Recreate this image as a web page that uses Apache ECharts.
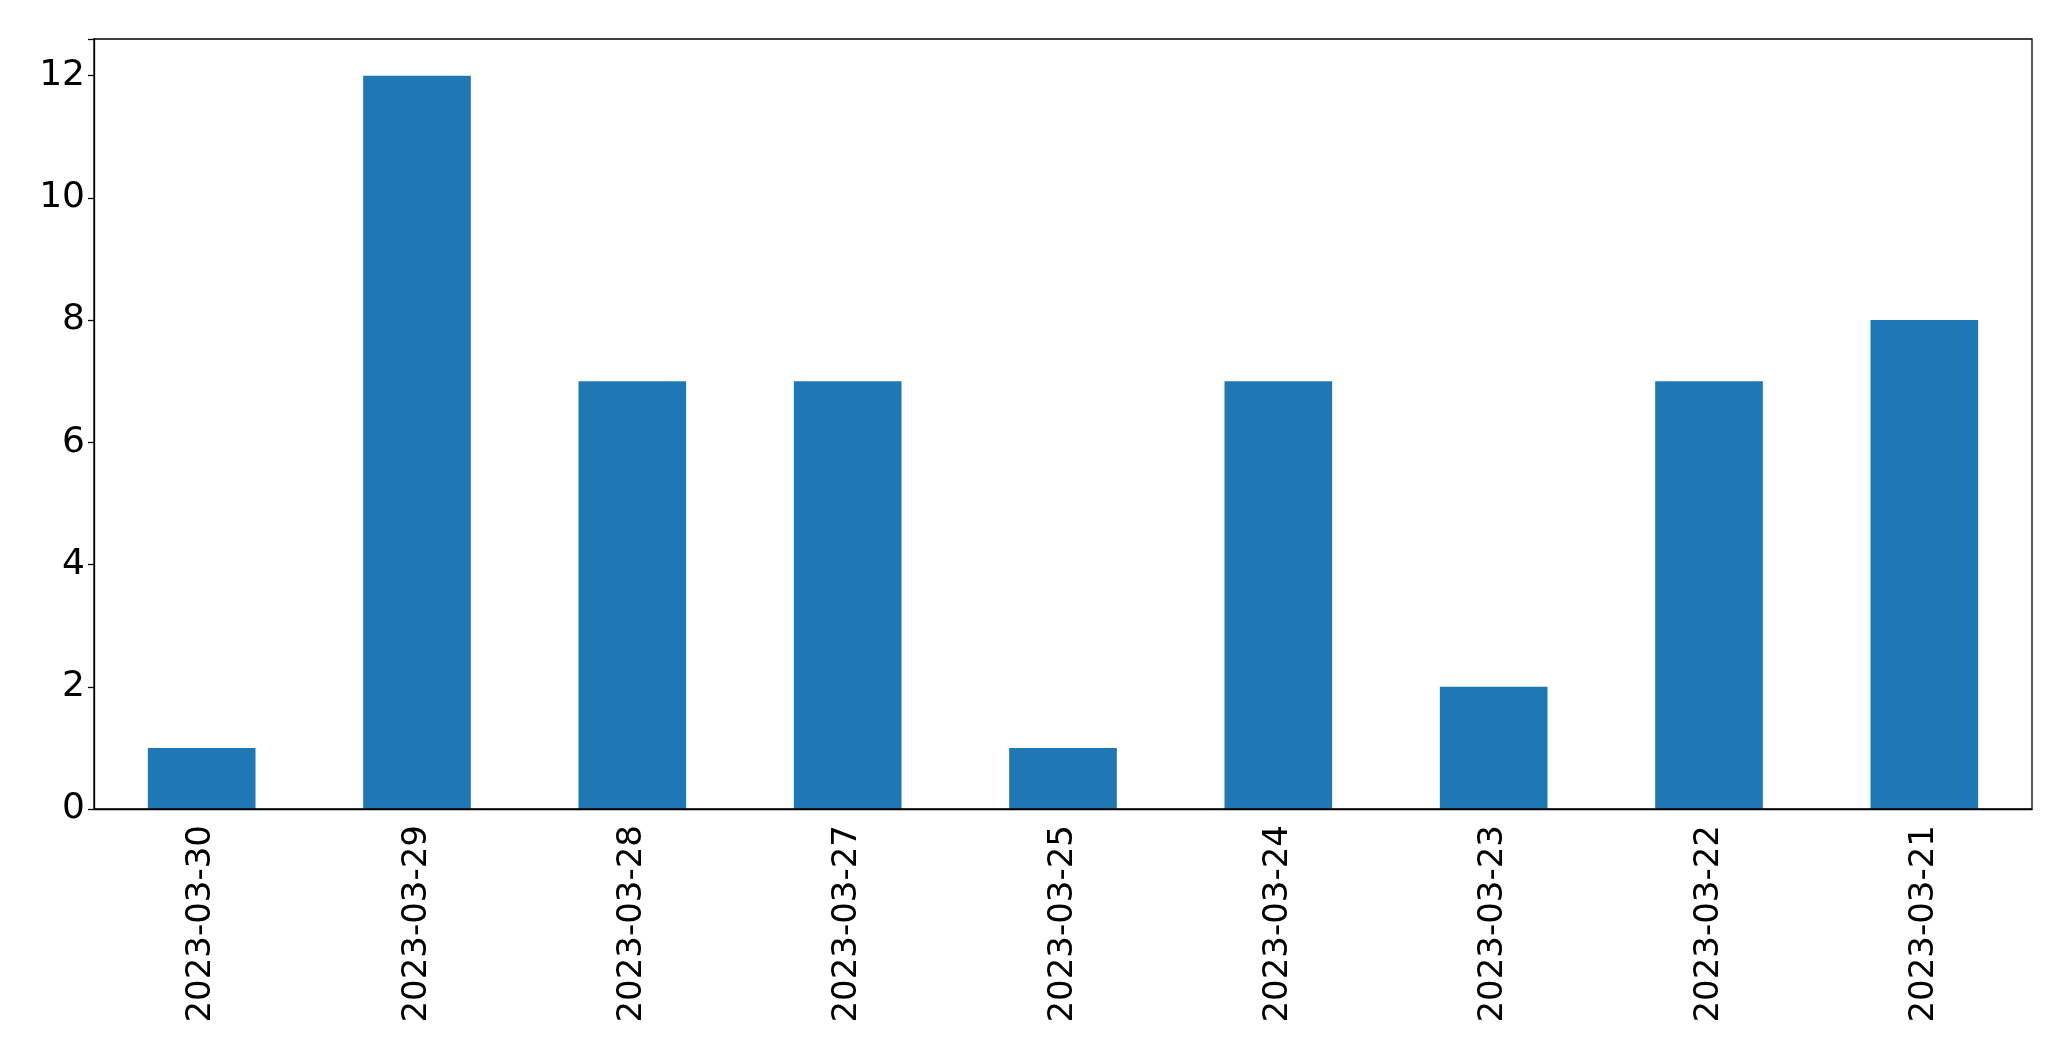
<!DOCTYPE html>
<html><head><meta charset="utf-8">
<script src="https://cdn.jsdelivr.net/npm/echarts@6/dist/echarts.min.js"></script>
<style>html,body{margin:0;padding:0;background:#fff}#c{width:2071px;height:1061px}</style>
</head><body><div id="c"></div>
<script>
const categories = ['2023-03-30','2023-03-29','2023-03-28','2023-03-27','2023-03-25','2023-03-24','2023-03-23','2023-03-22','2023-03-21'];
const values = [1, 12, 7, 7, 1, 7, 2, 7, 8];
const yTicks = [0, 2, 4, 6, 8, 10, 12];
const chart = echarts.init(document.getElementById('c'));
const font = 'DejaVu Sans';
chart.setOption({
  animation: false,
  grid: { left: 94, right: 39, top: 39, bottom: 252, containLabel: false },
  xAxis: {
    type: 'category', data: categories,
    axisLine: { lineStyle: { color: '#000', width: 1.3 } },
    axisTick: { alignWithLabel: true, length: 6, lineStyle: { color: '#000', width: 1.3 } },
    axisLabel: { rotate: 90, margin: 16, color: '#000', fontSize: 34, fontFamily: font, interval: 0 }
  },
  yAxis: {
    type: 'value', min: 0, max: 12.6, interval: 2,
    axisLine: { show: true, lineStyle: { color: '#000', width: 1.3 } },
    axisTick: { show: true, length: 6, lineStyle: { color: '#000', width: 1.3 } },
    splitLine: { show: false },
    axisLabel: { color: '#000', fontSize: 36, fontFamily: font, margin: 9,
      formatter: v => yTicks.includes(v) ? String(v) : '' }
  },
  series: [{
    type: 'bar', data: values, barWidth: '50%',
    itemStyle: { color: '#1f77b4' }
  }],
  graphic: [{
    type: 'rect', shape: { x: 94, y: 39, width: 2071 - 94 - 39, height: 1061 - 39 - 252 },
    style: { fill: 'none', stroke: '#000', lineWidth: 1.3 }, silent: true, z: 10
  }]
});
</script></body></html>
